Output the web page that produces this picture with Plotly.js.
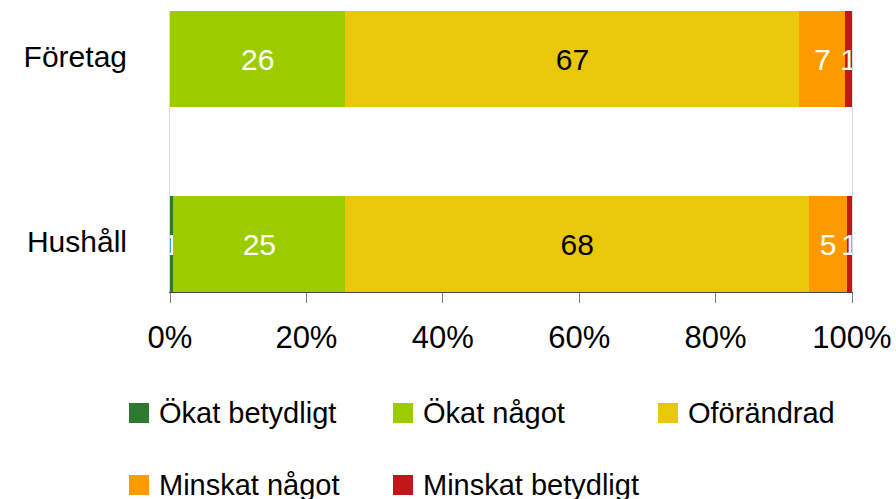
<!DOCTYPE html>
<html>
<head>
<meta charset="utf-8">
<script src="https://cdn.plot.ly/plotly-3.0.1.min.js"></script>
<style>html,body{margin:0;padding:0;background:#fff;}#chart{width:896px;height:499px;}</style>
</head>
<body>
<div id="chart"></div>
<script>
// ---- data ----
var categories = ['Hushåll', 'Företag'];
var seriesNames = ['Ökat betydligt', 'Ökat något', 'Oförändrad', 'Minskat något', 'Minskat betydligt'];
// values per series, in order of categories [Hushåll, Företag]
var okatBetydligt   = [0.5, 0];
var okatNagot       = [25.2, 25.7];
var oforandrad      = [68.0, 66.6];
var minskatNagot    = [5.6, 6.7];
var minskatBetydligt= [0.7, 1.0];
// data labels as printed in the chart
var okatBetydligtLbl   = ['1', ''];
var okatNagotLbl       = ['25', '26'];
var oforandradLbl      = ['68', '67'];
var minskatNagotLbl    = ['5', '7'];
var minskatBetydligtLbl= ['1', '1'];
var xTickVals = [0, 20, 40, 60, 80, 100];
var xTickLabels = ['0%', '20%', '40%', '60%', '80%', '100%'];

// ---- styles ----
var colors = ['#2b7a2e', '#9ccb00', '#e9c70a', '#fd9a00', '#c1171b'];
var textColors = ['#ffffff', '#ffffff', '#000000', '#ffffff', '#ffffff'];
var clip = [false, true, true, true, true];
var FONT = '"Liberation Sans", Arial, sans-serif';

var seriesValues = [okatBetydligt, okatNagot, oforandrad, minskatNagot, minskatBetydligt];
var seriesLabels = [okatBetydligtLbl, okatNagotLbl, oforandradLbl, minskatNagotLbl, minskatBetydligtLbl];

var traces = seriesNames.map(function (name, i) {
  return {
    type: 'bar',
    orientation: 'h',
    name: name,
    y: categories,
    x: seriesValues[i],
    text: seriesLabels[i],
    textposition: 'inside',
    insidetextanchor: 'middle',
    constraintext: 'none',
    cliponaxis: clip[i],
    textfont: {family: FONT, size: 30, color: textColors[i]},
    marker: {color: colors[i], line: {width: 0}},
    width: 0.519,
    hoverinfo: 'name+x',
    showlegend: false
  };
});

// ---- legend drawn as shapes + annotations ----
var L = 170, R = 44, T = 11, B = 207, W = 896, H = 499;
var PW = W - L - R, PH = H - T - B;
function px2x(px) { return (px - L) / PW; }
function py2y(py) { return (H - B - py) / PH; }
var legCols = [129, 393, 658];
var legRows = [413, 485];
var shapes = [], annotations = [];
seriesNames.forEach(function (name, i) {
  var col = i % 3, row = Math.floor(i / 3);
  var sx = legCols[col], sy = legRows[row];
  shapes.push({
    type: 'rect', xref: 'paper', yref: 'paper',
    x0: px2x(sx), x1: px2x(sx + 20), y0: py2y(sy + 10), y1: py2y(sy - 10),
    fillcolor: colors[i], line: {width: 0}
  });
  annotations.push({
    xref: 'paper', yref: 'paper', x: px2x(sx + 28), y: py2y(sy),
    xanchor: 'left', yanchor: 'middle', showarrow: false,
    text: name, font: {family: FONT, size: 29, color: '#000'}
  });
});

var layout = {
  width: W, height: H,
  margin: {l: L, r: R, t: T, b: B, pad: 0},
  paper_bgcolor: '#fff', plot_bgcolor: '#fff',
  barmode: 'stack',
  bargap: 0,
  showlegend: false,
  font: {family: FONT, color: '#000'},
  xaxis: {
    range: [0, 100], fixedrange: true,
    tickvals: xTickVals, ticktext: xTickLabels,
    tickfont: {family: FONT, size: 31, color: '#000'},
    showgrid: false, zeroline: false,
    showline: true, linecolor: '#4a4a4a', linewidth: 1,
    ticks: 'outside', ticklen: 10, tickcolor: '#808080', tickwidth: 1,
    ticklabelstandoff: 8
  },
  yaxis: {
    type: 'category', categoryorder: 'array', categoryarray: categories,
    range: [-0.257, 1.259], fixedrange: true,
    tickfont: {family: FONT, size: 30, color: '#000'},
    showgrid: false, zeroline: false,
    showline: true, mirror: true, linecolor: '#d8dbe4', linewidth: 1,
    ticks: '', ticklabelstandoff: 36, ticklabelshift: -3
  },
  shapes: shapes,
  annotations: annotations
};

Plotly.newPlot('chart', traces, layout, {displayModeBar: false, staticPlot: true});
</script>
</body>
</html>
